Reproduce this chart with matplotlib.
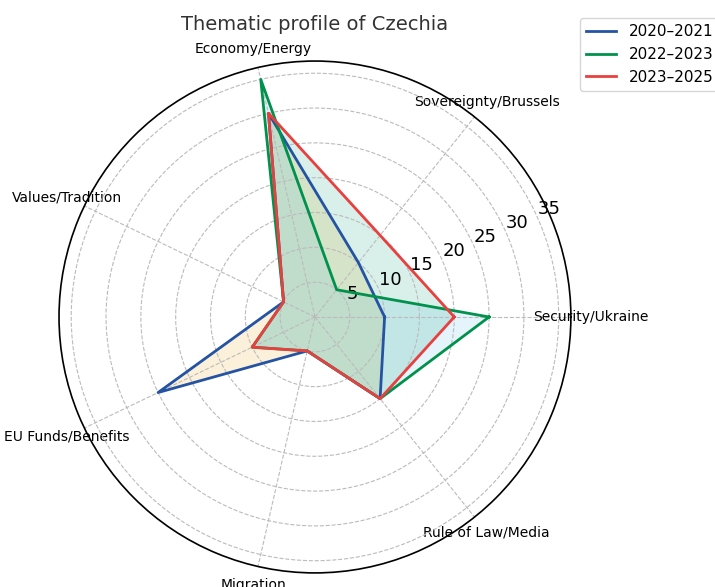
import numpy as np
import matplotlib
matplotlib.use("Agg")
from matplotlib import pyplot as plt

categories = ["Security/Ukraine", "Sovereignty/Brussels", "Economy/Energy",
              "Values/Tradition", "EU Funds/Benefits", "Migration",
              "Rule of Law/Media"]
periods = ["2020–2021", "2022–2023", "2023–2025"]
v_2020_2021 = [10, 10, 30, 5, 25, 5, 15]
v_2022_2023 = [25, 5, 35, 5, 10, 5, 15]
v_2023_2025 = [20, 15, 30, 5, 10, 5, 15]
r_ticks = [5, 10, 15, 20, 25, 30, 35]

line_colors = ["#2453a3", "#00924c", "#e8403f"]
fill_colors = ["#E69F00", "#56B4E9", "#009E73"]

angles = np.linspace(0, 2 * np.pi, len(categories), endpoint=False)
closed = np.append(angles, angles[0])

fig = plt.figure(figsize=(7.15, 5.87), dpi=100)
ax = fig.add_axes([0.0825, 0.024, 0.716, 0.872], polar=True)

for label, vals, lc, fc in zip(periods, [v_2020_2021, v_2022_2023, v_2023_2025],
                               line_colors, fill_colors):
    v = np.append(vals, vals[0])
    ax.plot(closed, v, color=lc, linewidth=2, label=label)
    ax.fill(closed, v, color=fc, alpha=0.15)

ax.set_xticks(angles)
ax.set_xticklabels(categories, fontsize=10)
ax.set_ylim(0, 36.75)
ax.set_yticks(r_ticks)
ax.set_yticklabels([str(t) for t in r_ticks], fontsize=13)
ax.set_rlabel_position(24)
ax.grid(True, linestyle="--", color="#bbbbbb", linewidth=0.8)
ax.spines["polar"].set_linewidth(1.2)

ax.set_title("Thematic profile of Czechia", fontsize=14, color="#333333", pad=22)
fig.legend(loc="upper right", bbox_to_anchor=(1.017, 0.982), fontsize=11)

fig.savefig("out.png", dpi=100)
